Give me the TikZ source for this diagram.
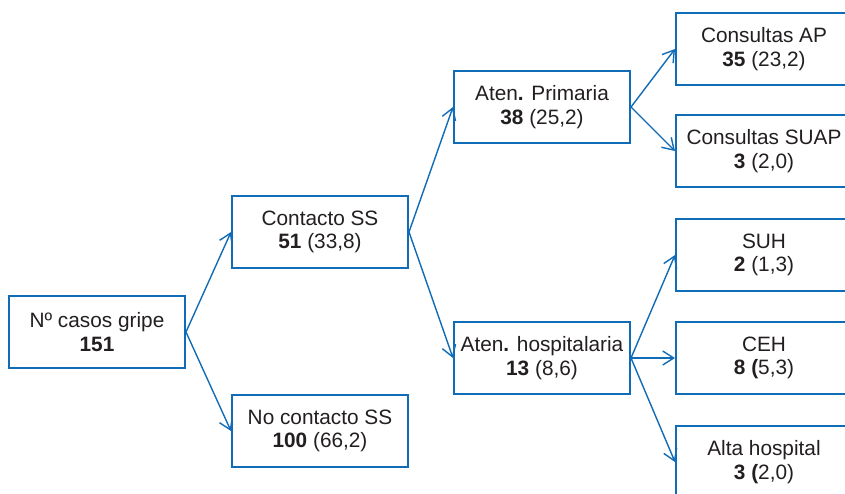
\documentclass[tikz,border=0pt]{standalone}
\usepackage{fontspec}
\setmainfont{Liberation Sans}
\usetikzlibrary{arrows.meta}
\definecolor{boxblue}{RGB}{16,108,182}
\definecolor{txt}{RGB}{35,31,32}
\begin{document}
\begin{tikzpicture}[x=1pt,y=-1pt,
  box/.style={draw=boxblue,line width=2pt,rectangle,minimum width=176pt,minimum height=72pt,
    inner sep=0pt,align=center,text=txt,font=\fontsize{20.8}{23.5}\selectfont},
  arr/.style={draw=boxblue,line width=1.4pt,-{Straight Barb[length=11pt,width=14pt,line width=1.4pt]}}]
\useasboundingbox (0,0) rectangle (845,493);
\clip (0,0) rectangle (845,493);
\fill[white] (0,0) rectangle (845,493);
\node[box] (n0) at (97,332) {Nº casos gripe\\\textbf{151}};
\node[box] (cs) at (320,232) {Contacto SS\\\textbf{51} (33,8)};
\node[box] (ncs) at (320,431) {No contacto SS\\\textbf{100} (66,2)};
\node[box] (ap) at (542,107) {Aten\textbf{.} Primaria\\\textbf{38} (25,2)};
\node[box] (ah) at (542,358) {Aten\textbf{.} hospitalaria\\\textbf{13} (8,6)};
\node[box] (cap) at (764,49) {Consultas AP\\\textbf{35} (23,2)};
\node[box] (csuap) at (764,151) {Consultas SUAP\\\textbf{3} (2,0)};
\node[box] (suh) at (764,255) {SUH\\\textbf{2} (1,3)};
\node[box] (ceh) at (764,358) {CEH\\\textbf{8 (}5,3)};
\node[box] (alta) at (764,462) {Alta hospital\\\textbf{3 (}2,0)};
\draw[arr] (n0.east) -- (cs.west);
\draw[arr] (n0.east) -- (ncs.west);
\draw[arr] (cs.east) -- (ap.west);
\draw[arr] (cs.east) -- (ah.west);
\draw[arr] (ap.east) -- (cap.west);
\draw[arr] (ap.east) -- (csuap.west);
\draw[arr] (ah.east) -- (suh.west);
\draw[arr] (ah.east) -- (ceh.west);
\draw[arr] (ah.east) -- (alta.west);
\end{tikzpicture}
\end{document}
